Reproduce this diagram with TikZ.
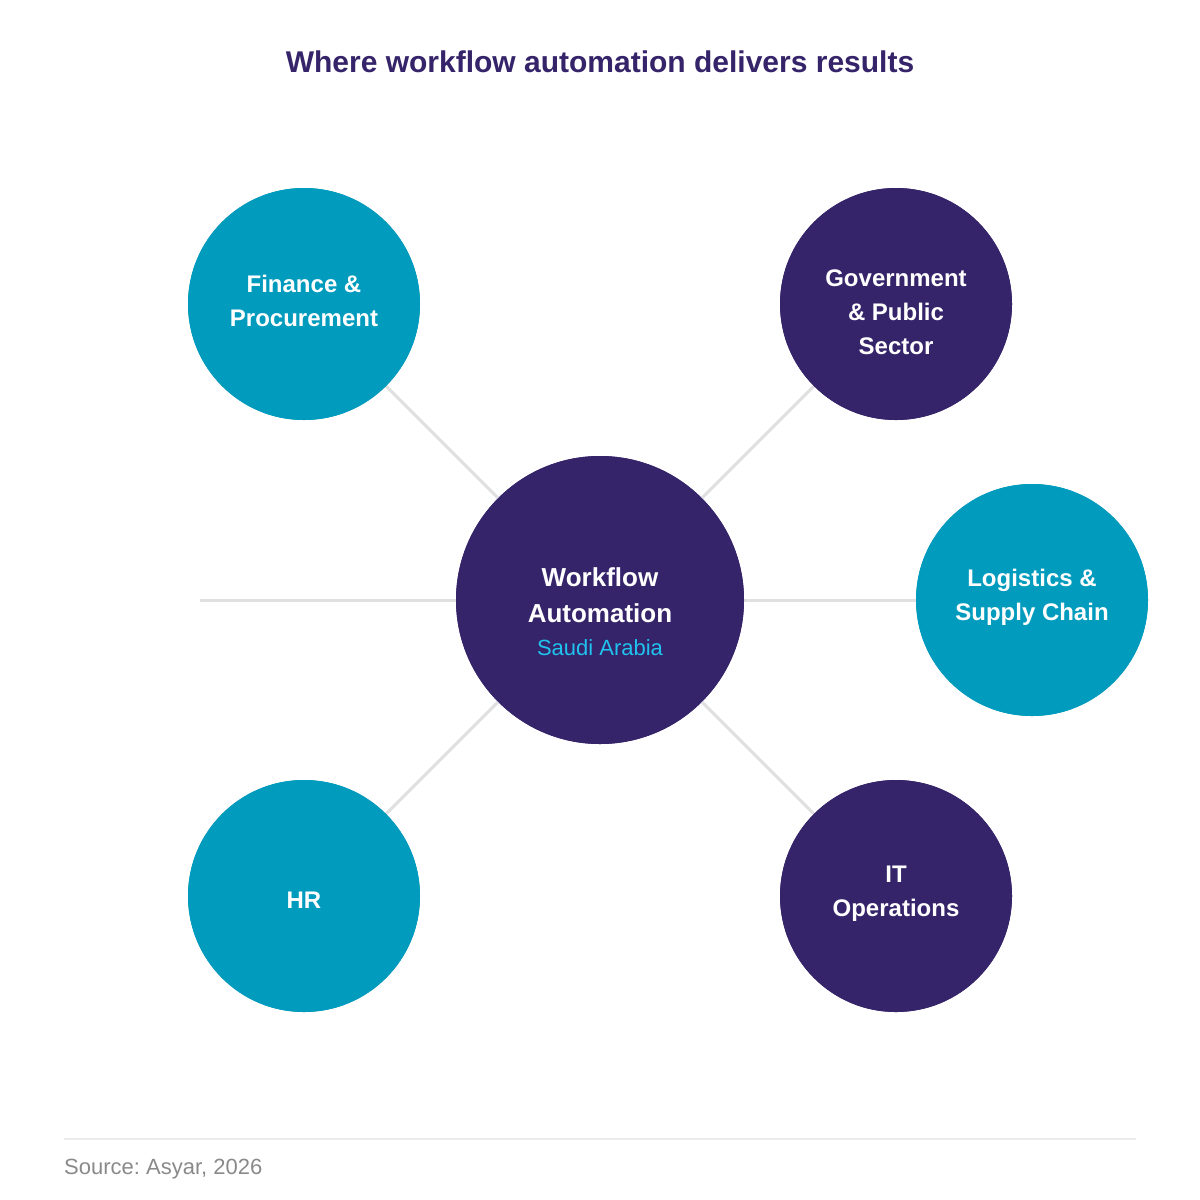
\documentclass[tikz,border=0pt]{standalone}
\usepackage{fontspec}
\setmainfont{Liberation Sans}
\frenchspacing
\definecolor{teal}{HTML}{009BBD}
\definecolor{navy}{HTML}{35246A}
\definecolor{sky}{HTML}{1FC3EE}
\definecolor{linkgray}{HTML}{E0E0E0}
\definecolor{rulegray}{HTML}{EBEBEB}
\definecolor{srcgray}{HTML}{8A8A8A}
\tikzset{
  hub/.style={circle, fill=navy, draw=none, minimum size=288pt, inner sep=0pt},
  tealnode/.style={circle, fill=teal, draw=none, minimum size=232pt, inner sep=0pt},
  navynode/.style={circle, fill=navy, draw=none, minimum size=232pt, inner sep=0pt},
  satlabel/.style={text=white, align=center, font=\bfseries\fontsize{24}{34}\selectfont},
  link/.style={draw=linkgray, line width=3pt},
}
\begin{document}
\begin{tikzpicture}[x=1pt,y=-1pt]
\useasboundingbox[fill=white] (0,0) rectangle (1200,1200);
\node[font=\bfseries\fontsize{30}{34}\selectfont, text=navy] (title) at (600,62) {Where workflow automation delivers results};
\node[hub] (hub) at (600,600) {};
\node[tealnode] (fin) at (304,304) {};
\node[navynode] (gov) at (896,304) {};
\node[tealnode] (log) at (1032,600) {};
\node[tealnode] (hr) at (304,896) {};
\node[navynode] (it) at (896,896) {};
\coordinate (leftend) at (200,600);
\draw[link] (leftend) -- (hub);
\draw[link] (hub) -- (fin);
\draw[link] (hub) -- (gov);
\draw[link] (hub) -- (log);
\draw[link] (hub) -- (hr);
\draw[link] (hub) -- (it);
% circles on top
\node[hub] at (hub) {};
\node[tealnode] at (fin) {};
\node[navynode] at (gov) {};
\node[tealnode] at (log) {};
\node[tealnode] at (hr) {};
\node[navynode] at (it) {};
% labels
\node[text=white, align=center, font=\bfseries\fontsize{26}{36}\selectfont] (hubtxt) at (600,595) {Workflow\\Automation};
\node[text=sky, font=\fontsize{22}{24}\selectfont] (hubsub) at (600,648) {Saudi Arabia};
\node[satlabel] (fintxt) at (304,301) {Finance \&\\Procurement};
\node[satlabel] (govtxt) at (896,312) {Government\\\& Public\\Sector};
\node[satlabel] (logtxt) at (1032,597) {Logistics \&\\Supply Chain};
\node[satlabel] (hrtxt) at (304,900) {HR};
\node[satlabel] (ittxt) at (896,894) {IT\\Operations};
% footer
\coordinate (rl) at (64,1139);
\coordinate (rr) at (1136,1139);
\draw[draw=rulegray, line width=1.5pt] (rl) -- (rr);
\node[anchor=west, text=srcgray, font=\fontsize{22}{24}\selectfont, inner sep=0pt] (src) at (64,1169) {Source: Asyar, 2026};
\end{tikzpicture}
\end{document}
